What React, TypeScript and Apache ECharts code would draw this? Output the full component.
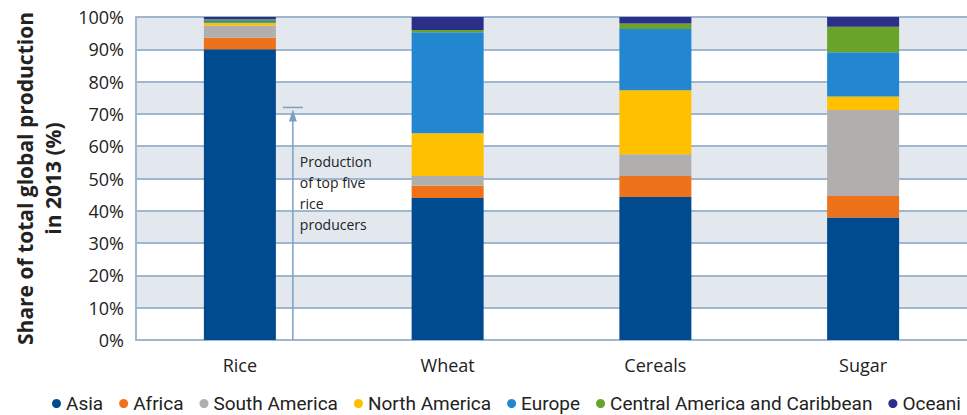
import React, { useEffect, useRef } from "react";
import * as echarts from "echarts";

const categories = ["Rice", "Wheat", "Cereals", "Sugar"];
const seriesNames = ["Asia", "Africa", "South America", "North America", "Europe", "Central America and Caribbean", "Oceani"];
const asia = [90.0, 44.0, 44.3, 37.9];
const africa = [3.6, 3.8, 6.5, 6.7];
const southAmerica = [3.7, 3.0, 6.7, 26.6];
const northAmerica = [0.9, 13.2, 19.8, 4.2];
const europe = [0.6, 31.3, 19.0, 13.7];
const centralAmerica = [0.5, 0.7, 1.7, 7.9];
const oceania = [0.7, 4.0, 2.0, 3.0];
const yTicks = [0, 10, 20, 30, 40, 50, 60, 70, 80, 90, 100];
const annotationValue = 72;
const annotationLines = ["Production", "of top five", "rice", "producers"];

const colors = ["#004a8f", "#ee7219", "#b0afad", "#ffc000", "#2287d0", "#6aa329", "#2b2f87"];
const allData = [asia, africa, southAmerica, northAmerica, europe, centralAmerica, oceania];

export default function App() {
  const ref = useRef<HTMLDivElement>(null);
  useEffect(() => {
    if (!ref.current) return;
    const chart = echarts.init(ref.current, undefined, { renderer: "svg" });
    const font = "Open Sans";
    chart.setOption({
      animation: false,
      color: colors,
      grid: { left: 136, width: 848, top: 17, height: 323, containLabel: false },
      legend: {
        left: 47,
        top: 389,
        width: 1400,
        icon: "circle",
        itemWidth: 9,
        itemHeight: 9,
        itemGap: 16,
        textStyle: { fontFamily: "Roboto", fontSize: 19, color: "#222" },
        data: seriesNames,
      },
      xAxis: {
        type: "category",
        data: categories,
        axisTick: { show: false },
        axisLine: { lineStyle: { color: "#9fb7cf", width: 2 } },
        axisLabel: { fontFamily: font, fontSize: 18, color: "#222", margin: 16 },
      },
      yAxis: {
        type: "value",
        min: yTicks[0],
        max: yTicks[yTicks.length - 1],
        interval: 10,
        name: "Share of total global production\nin 2013 (%)",
        nameLocation: "middle",
        nameGap: 61,
        nameTextStyle: { fontFamily: font, fontSize: 21, fontWeight: "bold", color: "#222", lineHeight: 28 },
        axisLine: { show: true, lineStyle: { color: "#9fb7cf", width: 2 } },
        axisTick: { show: false },
        axisLabel: { formatter: "{value}%", fontFamily: font, fontSize: 18, color: "#222", margin: 12 },
        splitLine: { lineStyle: { color: "#9fb7cf", width: 2 } },
        splitArea: { show: true, areaStyle: { color: ["#ffffff", "#e3e8ef"] } },
      },
      series: seriesNames.map((name, i) => ({
        name,
        type: "bar",
        stack: "total",
        barWidth: 72,
        data: allData[i],
        itemStyle: { color: colors[i] },
      })),
    });

    const x0 = chart.convertToPixel({ xAxisIndex: 0 }, categories[0]) as number;
    const x1 = chart.convertToPixel({ xAxisIndex: 0 }, categories[1]) as number;
    const ax = x0 + (x1 - x0) * 0.255;
    const yTop = chart.convertToPixel({ yAxisIndex: 0 }, annotationValue) as number;
    const yBottom = chart.convertToPixel({ yAxisIndex: 0 }, 0) as number;
    const lineColor = "#7e9fc4";
    chart.setOption({
      graphic: [
        { type: "line", shape: { x1: ax, y1: yTop + 4, x2: ax, y2: yBottom }, style: { stroke: lineColor, lineWidth: 1.5 }, z: 10 },
        { type: "line", shape: { x1: ax - 10, y1: yTop, x2: ax + 10, y2: yTop }, style: { stroke: lineColor, lineWidth: 1.5 }, z: 10 },
        { type: "polygon", shape: { points: [[ax, yTop + 2], [ax - 4, yTop + 14], [ax + 4, yTop + 14]] }, style: { fill: lineColor }, z: 10 },
        {
          type: "text",
          x: ax + 7,
          y: yTop + 44,
          style: {
            text: annotationLines.join("\n"),
            fontFamily: font,
            fontSize: 14,
            lineHeight: 21,
            fill: "#222",
          },
          z: 10,
        },
      ],
    });
    return () => chart.dispose();
  }, []);
  return <div ref={ref} style={{ position: "absolute", left: 0, top: 0, width: 967, height: 415 }} />;
}
